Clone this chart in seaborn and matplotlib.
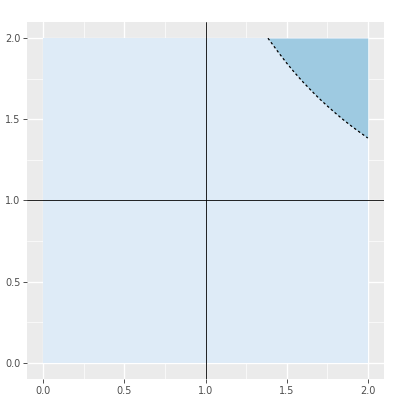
import numpy as np
import pandas as pd
import matplotlib
matplotlib.use("Agg")
import matplotlib.pyplot as plt
import seaborn as sns

# Square region
square_x = [0.0, 2.0]
square_y = [0.0, 2.0]
# Boundary curve points
curve_x = [1.385, 1.45, 1.5, 1.55, 1.6, 1.65, 1.7, 1.75, 1.8, 1.85, 1.9, 1.95, 2.0]
curve_y = [2.0, 1.912, 1.847, 1.787, 1.731, 1.679, 1.629, 1.583, 1.539, 1.497, 1.458, 1.421, 1.385]
# Reference lines
vline_x = 1.0
hline_y = 1.0
ticks = [0.0, 0.5, 1.0, 1.5, 2.0]
tick_labels = ["0.0", "0.5", "1.0", "1.5", "2.0"]

sns.set_theme(style="darkgrid")
plt.rcParams['font.family'] = ['DejaVu Sans']

fig = plt.figure(figsize=(4.11, 4.01), dpi=100)
ax = fig.add_axes([27/411, 22/401, (384-27)/411, (379-22)/401])
ax.set_facecolor("#EBEBEB")

ax.fill_between(square_x, square_y[0], square_y[1], color="#DEEBF7", lw=0, zorder=2)
df = pd.DataFrame({"x": curve_x, "y": curve_y})
ax.fill_between(df["x"], df["y"], square_y[1], color="#9ECAE1", lw=0, zorder=3)
sns.lineplot(data=df, x="x", y="y", ax=ax, color="black", lw=0.9,
             linestyle=(0, (2, 2)), sort=False, zorder=4)

ax.axvline(vline_x, color="black", lw=0.6, zorder=5)
ax.axhline(hline_y, color="black", lw=0.6, zorder=5)

ax.set_xlim(-0.1, 2.1)
ax.set_ylim(-0.1, 2.1)
ax.set_xticks(ticks)
ax.set_xticklabels(tick_labels)
ax.set_yticks(ticks)
ax.set_yticklabels(tick_labels)
ax.set_xticks([0.25, 0.75, 1.25, 1.75], minor=True)
ax.set_yticks([0.25, 0.75, 1.25, 1.75], minor=True)
ax.grid(which="major", color="white", lw=1.0, zorder=1)
ax.grid(which="minor", color="white", lw=0.5, zorder=1)
ax.set_axisbelow(True)
ax.tick_params(axis="both", which="major", length=2.75, width=0.6, color="#333333",
               labelsize=7, labelcolor="#4D4D4D", pad=2, bottom=True, left=True)
ax.tick_params(axis="both", which="minor", length=0)
ax.set_xlabel("")
ax.set_ylabel("")
for s in ax.spines.values():
    s.set_visible(False)

fig.savefig("out.png", dpi=100)
